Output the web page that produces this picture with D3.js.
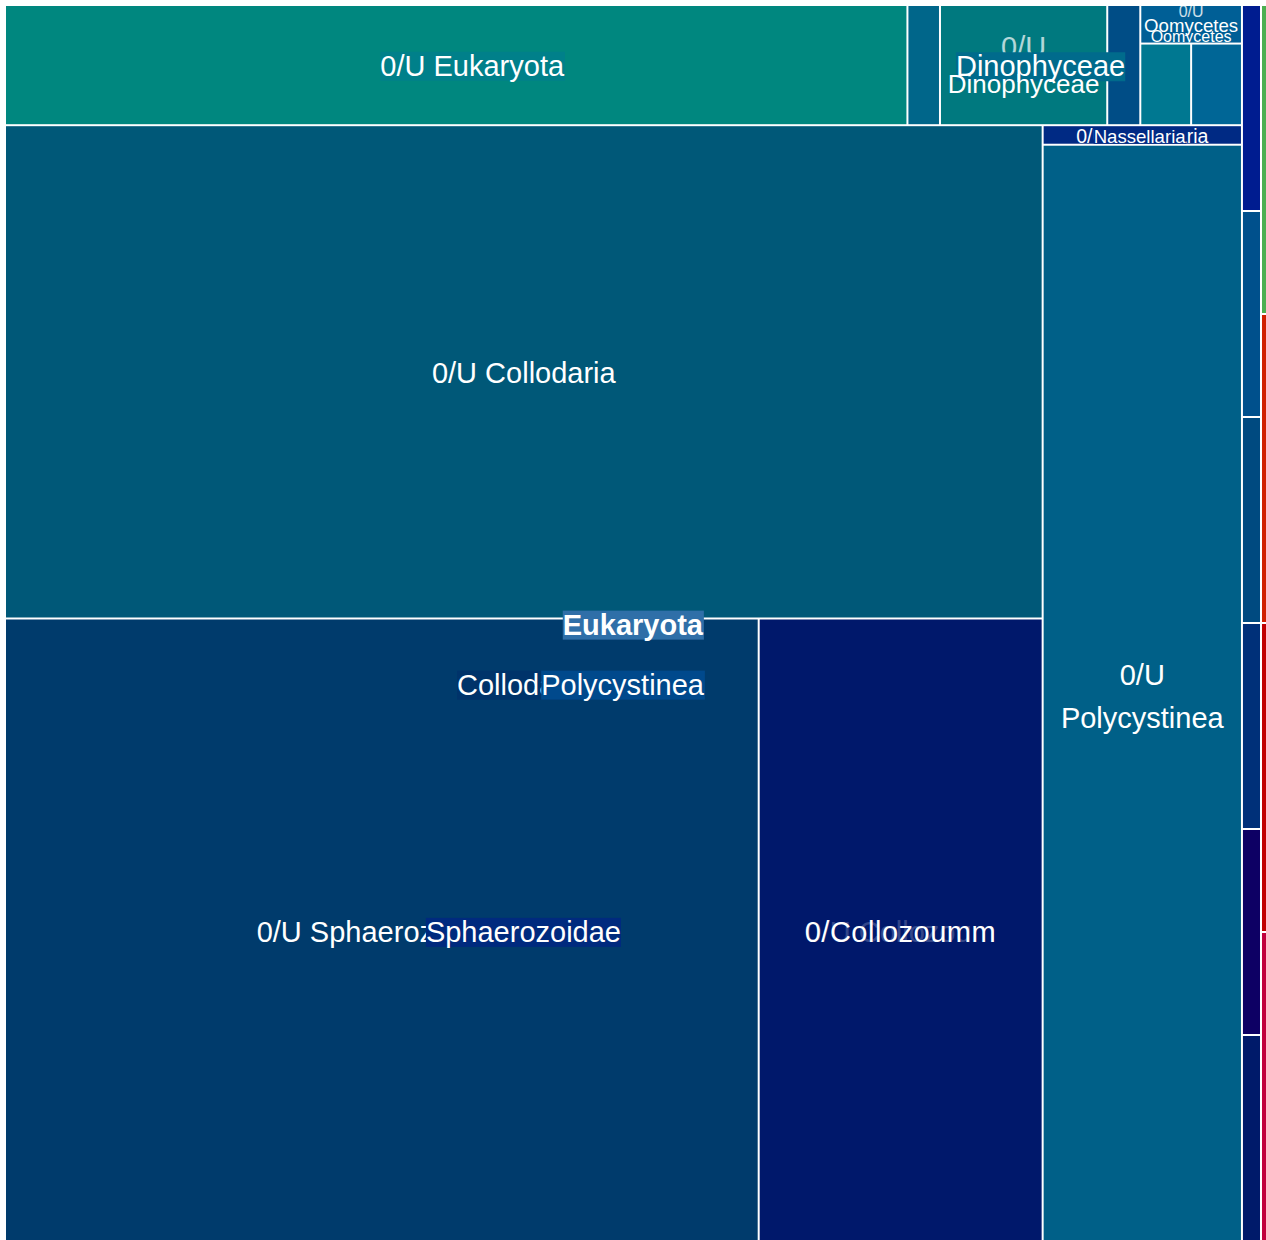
<!DOCTYPE html>
<html><head><meta charset="utf-8">
<script src="https://cdn.jsdelivr.net/npm/d3@7"></script>
<style>body{margin:0;background:#fff}svg{display:block;font-family:"Liberation Sans",Arial,sans-serif}</style>
</head><body><svg id="c" width="1266" height="1240"></svg>
<script>
// ---- data (areas) ----
const topRowNames  = ["0/U Eukaryota", "Eukaryota (other)", "0/U Dinophyceae", "Dinophyceae (other)"];
const topRowValues = [108120, 3900, 20040, 3960];
const topRowColors = ["#00877f", "#00668a", "#00797f", "#004d86"];

const oomyTopName  = "0/U Oomycetes";
const oomyTopValue = 3908;
const oomyTopColor = "#005f96";
const oomyLowNames  = ["Oomycetes A", "Oomycetes B"];
const oomyLowValues = [4136, 4136];
const oomyLowColors = ["#007891", "#006696"];

const collodName  = "0/U Collodaria";
const collodValue = 510230;
const collodColor = "#005878";
const lowerNames  = ["0/U Sphaerozoidae", "0/U Collozoum"];
const lowerValues = [467679, 176195];
const lowerColors = ["#003b6c", "#00186b"];

const rightNames  = ["0/U Nassellaria", "0/U Polycystinea"];
const rightValues = [3880, 217806];
const rightColors = ["#002a84", "#006088"];

const blueColNames  = ["b1", "b2", "b3", "b4", "b5", "b6"];
const blueColValues = [3908, 3908, 3908, 3908, 3908, 3908];
const blueColColors = ["#001c90", "#00508c", "#004a80", "#003079", "#0d0064", "#001a6a"];

const stripNames  = ["s1", "s2", "s3", "s4"];
const stripValues = [1851, 1851, 1851, 1851];
const stripColors = ["#4caf50", "#d02000", "#c00000", "#c0003c"];

// ---- hierarchy ----
const leaf = (n, v, c) => ({name: n, value: v, color: c});
const tree = {name: "root", children: [
  {name: "main", children: [
    {name: "topRow", children: [
      ...topRowNames.map((n, i) => leaf(n, topRowValues[i], topRowColors[i])),
      {name: "Oomycetes", children: [
        leaf(oomyTopName, oomyTopValue, oomyTopColor),
        {name: "oomyLow", children: oomyLowNames.map((n, i) => leaf(n, oomyLowValues[i], oomyLowColors[i]))}
      ]}
    ]},
    {name: "rest", children: [
      {name: "left", children: [
        leaf(collodName, collodValue, collodColor),
        {name: "lower", children: lowerNames.map((n, i) => leaf(n, lowerValues[i], lowerColors[i]))}
      ]},
      {name: "right", children: rightNames.map((n, i) => leaf(n, rightValues[i], rightColors[i]))}
    ]}
  ]},
  {name: "blueCol", children: blueColNames.map((n, i) => leaf(n, blueColValues[i], blueColColors[i]))},
  {name: "strip", children: stripNames.map((n, i) => leaf(n, stripValues[i], stripColors[i]))}
]};

const root = d3.hierarchy(tree).sum(d => d.value || 0);
d3.treemap().tile(d3.treemapSliceDice).size([1260, 1234]).paddingInner(2)(root);

const svg = d3.select("#c");
const g = svg.append("g").attr("transform", "translate(6,6)");
const leaves = root.leaves();
const byName = {};
leaves.forEach(d => byName[d.data.name] = d);

g.selectAll("rect.cell").data(leaves).join("rect").attr("class", "cell")
  .attr("x", d => d.x0).attr("y", d => d.y0)
  .attr("width", d => Math.max(0, d.x1 - d.x0)).attr("height", d => Math.max(0, d.y1 - d.y0))
  .attr("fill", d => d.data.color);

// clip paths
const defs = svg.append("defs");
function clip(id, d) {
  defs.append("clipPath").attr("id", id).append("rect")
    .attr("x", d.x0).attr("y", d.y0).attr("width", d.x1 - d.x0).attr("height", d.y1 - d.y0);
  return "url(#" + id + ")";
}
const cx = d => (d.x0 + d.x1) / 2, cy = d => (d.y0 + d.y1) / 2;

function label(parent, txt, x, y, opts = {}) {
  const t = parent.append("text").attr("x", x).attr("y", y).attr("dy", "0.35em")
    .attr("fill", opts.fill || "#fff").attr("font-size", opts.size || 29)
    .attr("font-weight", opts.bold ? "bold" : "normal")
    .attr("text-anchor", opts.anchor || "middle").attr("opacity", opts.opacity == null ? 1 : opts.opacity)
    .text(txt);
  if (opts.len) t.attr("textLength", opts.len).attr("lengthAdjust", "spacing");
  if (opts.bg) {
    const b = t.node().getBBox();
    parent.insert("rect", () => t.node()).attr("x", b.x).attr("y", b.y + 2)
      .attr("width", b.width).attr("height", b.height - 3).attr("fill", opts.bg);
  }
  return t;
}

// Eukaryota
const euk = byName["0/U Eukaryota"];
label(g, "0/U Eukaryota", cx(euk) + 16, cy(euk) + 0.5, {bg: "#00808a"});

// Dinophyceae
const dino = byName["0/U Dinophyceae"];
label(g.append("g").attr("clip-path", clip("cd", dino)), "0/U", cx(dino), cy(dino) - 18, {opacity: 0.7});
label(g, "Dinophyceae", cx(dino) + 17, cy(dino) + 1, {bg: "#006b8c"});
label(g, "Dinophyceae", cx(dino), cy(dino) + 19, {size: 26});

// Oomycetes
const oomy = byName["0/U Oomycetes"];
const og = g.append("g").attr("clip-path", clip("co", oomy));
label(og, "0/U", cx(oomy), cy(oomy) - 13, {size: 16, opacity: 0.8});
label(og, "Oomycetes", cx(oomy), cy(oomy) + 1.5, {size: 18.6});
label(og, "Oomycetes", cx(oomy), cy(oomy) + 12, {size: 16});

// Collodaria
const col = byName["0/U Collodaria"];
label(g, "0/U Collodaria", cx(col), cy(col) + 1, {});

// Nassellaria
const nas = byName["0/U Nassellaria"];
const ng = g.append("g").attr("clip-path", clip("cn", nas));
label(ng, "0/U Nassellaria", cx(nas), cy(nas) + 1.5, {size: 19.5});
label(ng, "Nassellaria", nas.x0 + 50, cy(nas) + 1.5, {size: 18.6, anchor: "start", bg: "#002a84"});

// Polycystinea
const pol = byName["0/U Polycystinea"];
label(g, "0/U", cx(pol), cy(pol) - 18, {});
label(g, "Polycystinea", cx(pol), cy(pol) + 25, {});

// Sphaerozoidae
const sph = byName["0/U Sphaerozoidae"];
label(g, "0/U Sphaerozoidae", cx(sph) - 1, cy(sph) + 2, {});
label(g, "Sphaerozoidae", sph.x0 + 615, cy(sph) + 2, {anchor: "end", bg: "#002a7e"});

// Collozoum
const coz = byName["0/U Collozoum"];
label(g, "0/U Collozoum", cx(coz), cy(coz) + 2, {opacity: 0.2});
label(g, "0/Collozoumm", coz.x0 + 45, cy(coz) + 2, {anchor: "start", len: 191});

// overlapping parent labels
label(g, "Collodaria", sph.x0 + 451, sph.y0 + 65, {anchor: "start", bg: "#00336a"});
label(g, "aria", sph.x0 + 560, sph.y0 + 65, {anchor: "start", opacity: 0.2});
label(g, "Polycystinea", sph.x0 + 698, sph.y0 + 65, {anchor: "end", bg: "#00498c"});
label(g, "Eukaryota", sph.x0 + 697, sph.y0 + 5, {anchor: "end", bold: true, bg: "#2f6fa8"});
</script></body></html>
